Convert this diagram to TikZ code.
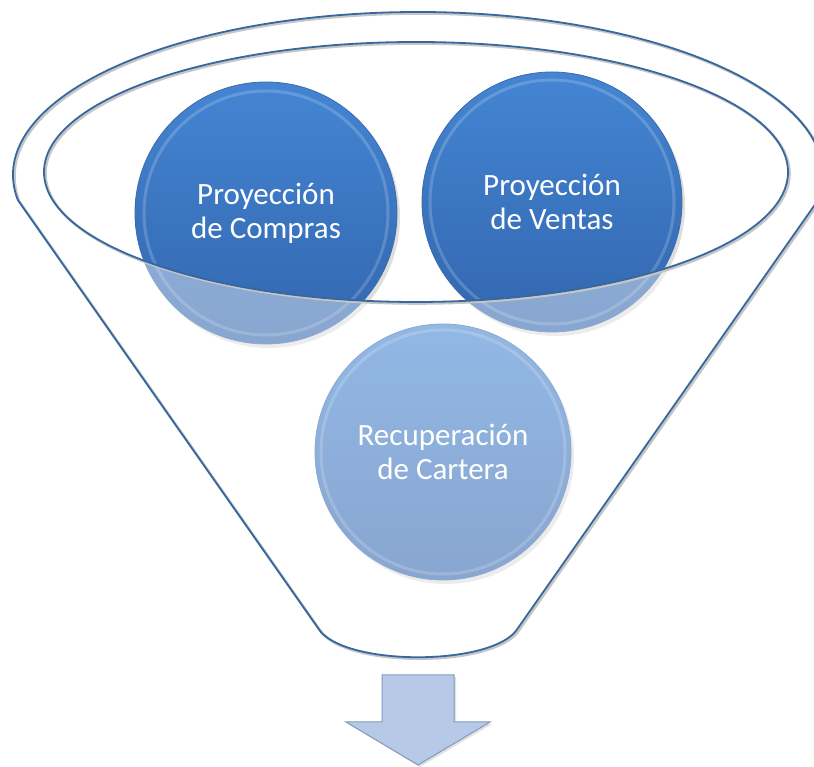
\documentclass[tikz,border=0pt]{standalone}
\usepackage{fontspec}
\setmainfont{Carlito}
\usetikzlibrary{positioning,calc}

\definecolor{rimblue}{HTML}{36679F}
\definecolor{discTop}{HTML}{4485D3}
\definecolor{discBot}{HTML}{3266AE}
\definecolor{discEdge}{HTML}{3D6CA8}
\definecolor{arrowFill}{HTML}{B6C9E7}
\definecolor{arrowEdge}{HTML}{8399BD}

% outline of the funnel body
\newcommand{\funnelshape}{(318,139) -- ($(418,592)+(188.8:405 and 163)$)
  arc[start angle=188.8, end angle=-8.8, x radius=405, y radius=163]
  -- (518,139) .. controls (495,100) and (341,100) .. (318,139) -- cycle}

\tikzset{
  disc/.style={circle, draw=discEdge, line width=0.8pt, top color=discTop,
    bottom color=discBot, text=white, align=center, inner sep=0pt,
    font=\fontsize{31}{34}\selectfont},
  discshadow/.style={fill=black, opacity=0.13},
  rimline/.style={draw=rimblue, line width=1.8pt},
  rimshadow/.style={draw=gray!45, line width=2.6pt},
}

\begin{document}
\begin{tikzpicture}[x=1pt,y=1pt]
  \useasboundingbox (0,0) rectangle (814,767);
  \clip (0,0) rectangle (814,767);

  % shadows of the discs
  \fill[discshadow] (269,550) circle[radius=131];
  \fill[discshadow] (555,561) circle[radius=130];
  \fill[discshadow] (446,311) circle[radius=128];

  \node[disc, minimum size=262pt] (compras) at (266,554) {Proyección\\de Compras};
  \node[disc, minimum size=260pt] (ventas) at (552,565) {Proyección\\de Ventas};
  \node[disc, minimum size=256pt] (cartera) at (443,315) {Recuperación\\de Cartera};

  % bevel rings
  \foreach \n in {compras,ventas,cartera}
    \draw[white, opacity=0.18, line width=3pt] (\n.center) circle[radius=122];

  % glass of the funnel over the discs
  \fill[white, opacity=0.42, even odd rule] \funnelshape
    (416,595) ellipse[x radius=372, y radius=130];

  % rims
  \draw[rimshadow, shift={(1.5,-1.5)}] \funnelshape;
  \draw[rimshadow, shift={(1.5,-1.5)}] (416,595) ellipse[x radius=372, y radius=130];
  \draw[rimline] \funnelshape;
  \draw[rimline] (416,595) ellipse[x radius=372, y radius=130];

  % output arrow
  \fill[black, opacity=0.12, shift={(2,-2)}] (382,92) -- (454,92) -- (454,45) -- (490,45)
    -- (418,2) -- (346,45) -- (382,45) -- cycle;
  \draw[fill=arrowFill, draw=arrowEdge, line width=1pt] (382,92) -- (454,92) -- (454,45)
    -- (490,45) -- (418,2) -- (346,45) -- (382,45) -- cycle;
\end{tikzpicture}
\end{document}
